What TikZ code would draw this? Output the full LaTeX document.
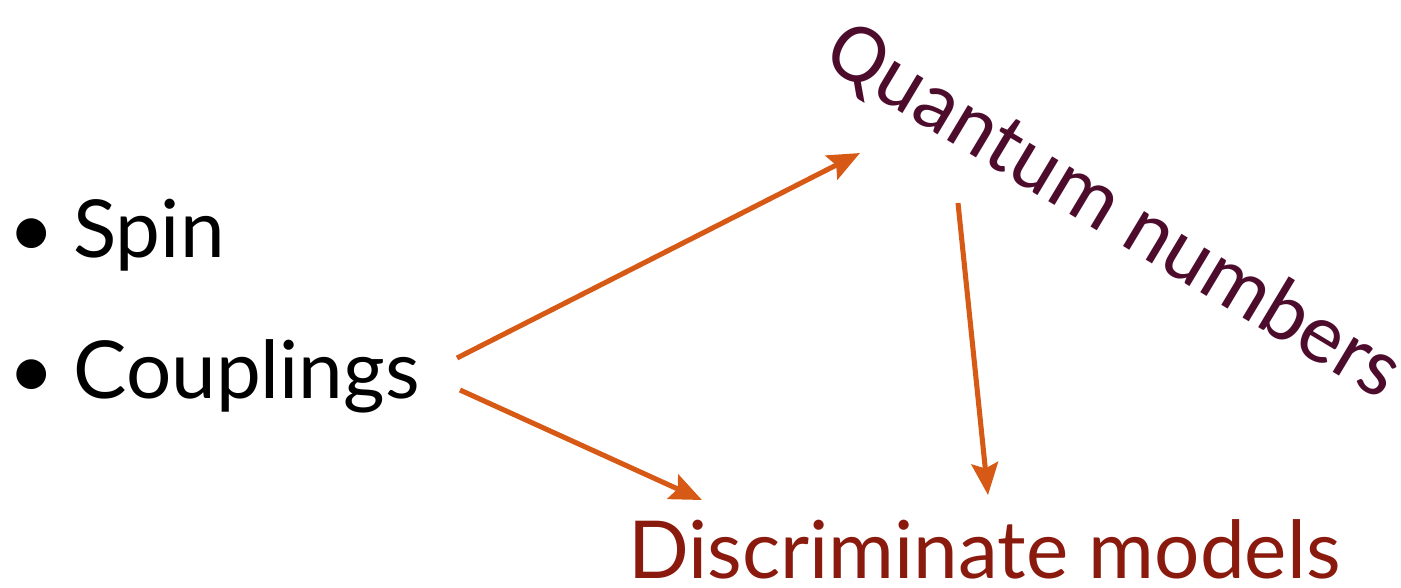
\documentclass[tikz,border=0pt]{standalone}
\usepackage{fontspec}
\setmainfont{Lato}
\newfontfamily\qfont{Carlito}
\usepackage{xcolor}
\usetikzlibrary{arrows.meta, positioning}

\definecolor{qncol}{RGB}{78,12,44}
\definecolor{dmcol}{RGB}{138,26,14}
\definecolor{arcol}{RGB}{214,90,22}

\tikzset{
  bigtext/.style={font=\fontsize{60}{72}\selectfont, inner sep=0pt},
  arr/.style={draw=arcol, line width=3.8pt, -{Stealth[length=24pt, width=20pt, inset=4pt]}}
}

\begin{document}
\begin{tikzpicture}[x=0.75pt,y=0.75pt,yscale=-1,xscale=1]
\useasboundingbox (0,0) rectangle (1401,587); %set diagram to 1401 x 587

% Text Node
\draw (8,257) node (spin) [bigtext, anchor=base west] {\textbullet\hspace{14pt}Spin};
% Text Node
\draw (8,398) node (cpl) [bigtext, anchor=base west] {\textbullet\hspace{14pt}Couplings};
% Text Node
\draw (1113,212) node (qn) [bigtext, font=\qfont\fontsize{64}{76}\selectfont, text=qncol, rotate=-31] {Quantum numbers};
% Text Node
\draw (628,578) node (dm) [bigtext, anchor=base west, text=dmcol] {Discriminate models};

% arrow ends
\coordinate (c1) at (457,358);
\coordinate (c2) at (460,390);
\coordinate (q1) at (860,153);
\coordinate (q2) at (958,203);
\coordinate (d1) at (702,500);
\coordinate (d2) at (988,495);

%Straight Lines
\draw [arr] (c1) -- (q1) ;
%Straight Lines
\draw [arr] (c2) -- (d1) ;
%Straight Lines
\draw [arr] (q2) -- (d2) ;

\end{tikzpicture}
\end{document}
